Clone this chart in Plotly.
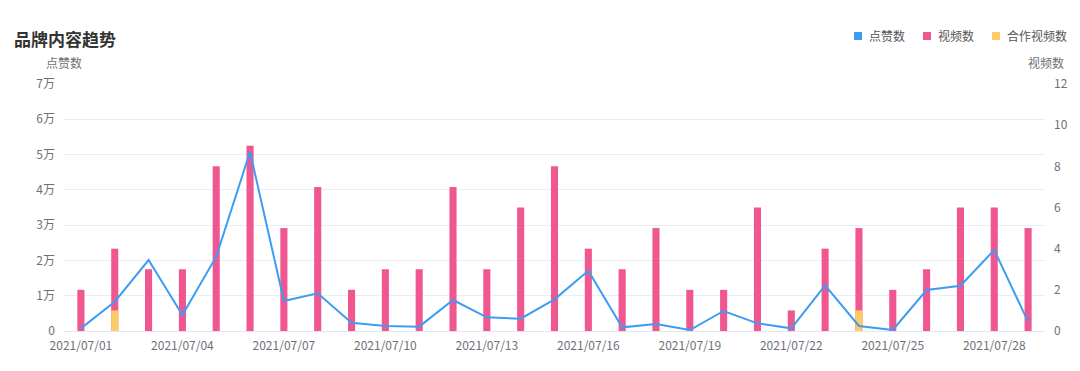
import plotly.graph_objects as go

dates = [f"2021/07/{d:02d}" for d in range(1, 30)]
likes = [755, 8310, 20100, 4530, 21060, 50800, 8500, 10670, 2360, 1420,
         1230, 8780, 3870, 3490, 8970, 17090, 1040, 1980, 280, 5670,
         2170, 755, 12940, 1420, 280, 11610, 12840, 22950, 2640]
videos = [2, 4, 3, 3, 8, 9, 5, 7, 2, 3, 3, 7, 3, 6, 8, 4, 3, 5, 2, 2,
          6, 1, 4, 5, 2, 3, 6, 6, 5]
coop_videos = [0, 1, 0, 0, 0, 0, 0, 0, 0, 0, 0, 0, 0, 0, 0, 0, 0, 0, 0, 0,
               0, 0, 0, 1, 0, 0, 0, 0, 0]
left_ticks = [0, 10000, 20000, 30000, 40000, 50000, 60000, 70000]
left_ticktext = ["0", "1万", "2万", "3万", "4万", "5万", "6万", "7万"]
right_ticks = [0, 2, 4, 6, 8, 10, 12]
x_tick_labels = dates[::3]

BLUE = "#3d9df3"
PINK = "#f0568f"
YELLOW = "#fecb66"
FONT = "Noto Sans CJK SC"
TICK_COLOR = "#6e7079"

W, H = 1080, 371
L, R, T, B = 64, 35, 84, 40
pw, ph = W - L - R, H - T - B


def px(x):
    return (x - L) / pw


def py(y):
    return 1 - (y - T) / ph


fig = go.Figure()
fig.add_trace(go.Bar(x=dates, y=videos, name="视频数", marker_color=PINK,
                     marker_line_width=0, width=0.21, yaxis="y", showlegend=False))
fig.add_trace(go.Bar(x=dates, y=coop_videos, name="合作视频数", marker_color=YELLOW,
                     marker_line_width=0, width=0.21, yaxis="y", showlegend=False))
fig.add_trace(go.Scatter(x=dates, y=likes, name="点赞数", mode="lines",
                         line=dict(color=BLUE, width=2), yaxis="y2", showlegend=False))

fig.update_layout(
    width=W, height=H,
    margin=dict(l=L, r=R, t=T, b=B),
    plot_bgcolor="white", paper_bgcolor="white",
    barmode="overlay",
    font=dict(family=FONT, size=12, color=TICK_COLOR),
    xaxis=dict(type="category", range=[-0.5, 28.5], tickvals=x_tick_labels,
               ticktext=x_tick_labels, showgrid=False, showline=True,
               linecolor="#e0e6f1", ticks="", ticklabelstandoff=4,
               tickfont=dict(size=12, color=TICK_COLOR)),
    yaxis=dict(side="right", range=[0, 12], tickvals=right_ticks, showgrid=False,
               zeroline=False, showline=False, ticks="", ticklabelstandoff=8,
               tickfont=dict(size=12, color=TICK_COLOR)),
    yaxis2=dict(side="left", overlaying="y", range=[0, 70000], tickvals=left_ticks,
                ticktext=left_ticktext, showgrid=True, gridcolor="#e9edf5",
                gridwidth=1, zeroline=False, showline=False, ticks="",
                ticklabelstandoff=8, tickfont=dict(size=12, color=TICK_COLOR)),
)

annotations = [
    dict(text="<b>品牌内容趋势</b>", x=px(12), y=py(38), xanchor="left", yanchor="middle",
         font=dict(size=17, color="#333333", family=FONT)),
    dict(text="点赞数", x=px(64), y=py(63), xanchor="center", yanchor="middle",
         font=dict(size=12, color=TICK_COLOR, family=FONT)),
    dict(text="视频数", x=px(1046), y=py(63), xanchor="center", yanchor="middle",
         font=dict(size=12, color=TICK_COLOR, family=FONT)),
]
shapes = []
legend_items = [("点赞数", BLUE, 854), ("视频数", PINK, 923), ("合作视频数", YELLOW, 992)]
for name, color, x0 in legend_items:
    shapes.append(dict(type="rect", xref="paper", yref="paper",
                       x0=px(x0), x1=px(x0 + 8), y0=py(40), y1=py(32),
                       fillcolor=color, line=dict(width=0)))
    annotations.append(dict(text=name, x=px(x0 + 13), y=py(36), xanchor="left",
                            yanchor="middle", font=dict(size=12, color="#555555", family=FONT)))

for a in annotations:
    a.update(xref="paper", yref="paper", showarrow=False)
fig.update_layout(annotations=annotations, shapes=shapes)

fig.write_html("out.html", config={"displayModeBar": False})

# remove default page margin so the figure sits at the window's top-left corner
with open("out.html", "r", encoding="utf-8") as f:
    html = f.read()
html = html.replace("<body>", '<body style="margin:0;padding:0;">', 1)
html = html.replace("<head>", '<head><style>html,body{margin:0;padding:0;overflow:hidden;}</style>', 1)
with open("out.html", "w", encoding="utf-8") as f:
    f.write(html)
